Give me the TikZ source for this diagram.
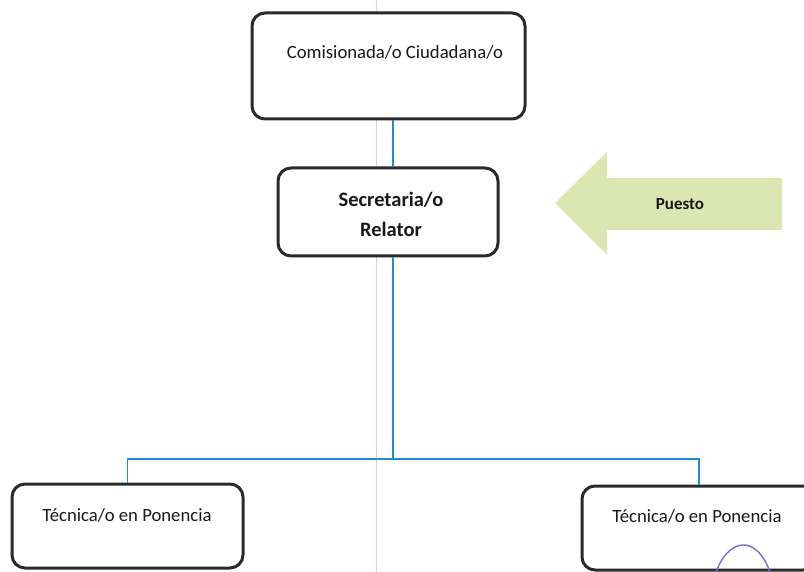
\documentclass[tikz,border=0pt]{standalone}
\usepackage{fontspec}
\setmainfont{Carlito}
\usetikzlibrary{calc}
\definecolor{boxline}{HTML}{2A2A2A}
\definecolor{wireblue}{HTML}{1E8ECF}
\definecolor{arrowfill}{HTML}{DCE6B2}
\definecolor{marginpink}{HTML}{F2C4CE}
\definecolor{penviolet}{HTML}{7B6AD2}
\tikzset{
  orgbox/.style={draw=boxline, line width=3pt, rounded corners=13pt, fill=white, inner sep=0pt},
  label18/.style={font=\fontsize{18.7}{30}\selectfont, inner sep=0pt, text=black!90},
  wire/.style={draw=wireblue, line width=1.6pt},
}
\begin{document}
\begin{tikzpicture}[x=1pt, y=-1pt]
  \useasboundingbox (0,0) rectangle (804,572);
  \clip (0,0) rectangle (804,572);
  \fill[white] (0,0) rectangle (804,572);
  % margin rule of the page
  \draw[marginpink, line width=1pt] (376,0) -- (376,572);

  % boxes
  \node[orgbox, minimum width=273pt, minimum height=106pt] (top) at (388.5,66) {};
  \node[orgbox, minimum width=220pt, minimum height=88pt] (sec) at (388,212) {};
  \node[orgbox, minimum width=231pt, minimum height=84pt] (left) at (127.5,526) {};
  \node[orgbox, minimum width=234pt, minimum height=84pt] (right) at (699,528) {};

  % labels
  \node[label18] (toptext) at (395,52) {Comisionada/o Ciudadana/o};
  \node[label18, font=\fontsize{20.5}{30}\selectfont\bfseries, align=center] (sectext) at (391,214) {Secretaria/o\\Relator};
  \node[label18] (lefttext) at (127,515) {Técnica/o en Ponencia};
  \node[label18] (righttext) at (697,516) {Técnica/o en Ponencia};

  % connectors
  \coordinate (trunk) at (393,300);
  \coordinate (bus) at (0,459);
  \draw[wire] (top.south -| trunk) -- (sec.north -| trunk);
  \draw[wire] (sec.south -| trunk) -- (trunk |- bus);
  \draw[wire] (left.north) -- (left.north |- bus) -- (right.north |- bus) -- (right.north);

  % pointer arrow
  \fill[arrowfill] (555,203) -- (607,152) -- (607,178) -- (782,178) -- (782,230) -- (607,230) -- (607,255) -- cycle;
  \node[label18, font=\fontsize{17}{20}\selectfont\bfseries] (puesto) at (680,204) {Puesto};

  % pen stroke
  \draw[penviolet, line width=1.4pt] (715,575) .. controls (727,538) and (757,532) .. (771,575);
\end{tikzpicture}
\end{document}
